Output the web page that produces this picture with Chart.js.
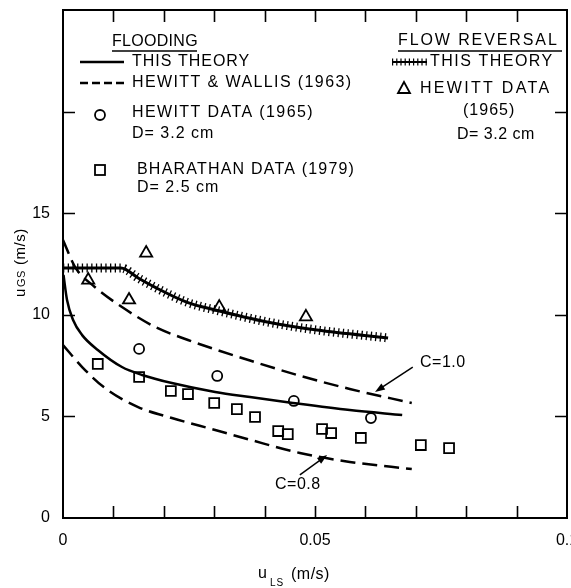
<!DOCTYPE html>
<html>
<head>
<meta charset="utf-8">
<script src="https://cdn.jsdelivr.net/npm/chart.js@4.4.1/dist/chart.umd.min.js"></script>
<style>
  html, body { margin: 0; padding: 0; background: #fff; overflow: hidden; }
  #wrap { width: 571px; height: 588px; overflow: hidden; }
  canvas { display: block; }
</style>
</head>
<body>
<div id="wrap"><canvas id="chart" width="590" height="588"></canvas></div>
<script>
// flooding - this theory (solid)
const theoryX = [0.0001, 0.0008, 0.002, 0.0038, 0.0069, 0.0117, 0.0157, 0.0216, 0.0302, 0.0371, 0.0456, 0.0569, 0.0673];
const theoryY = [11.96, 10.73, 9.74, 9.0, 8.27, 7.43, 7.04, 6.64, 6.2, 5.95, 5.66, 5.31, 5.07];

// Hewitt & Wallis (1963), C = 1.0 and C = 0.8 (dashed)
const wallisHiX = [0, 0.0024, 0.0063, 0.0117, 0.0183, 0.0248, 0.0302, 0.0371, 0.047, 0.0569, 0.0692];
const wallisHiY = [13.68, 12.35, 11.37, 10.38, 9.4, 8.76, 8.3, 7.75, 7.0, 6.35, 5.66];
const wallisLoX = [0, 0.0038, 0.0083, 0.0149, 0.0216, 0.0302, 0.0371, 0.047, 0.0569, 0.0692];
const wallisLoY = [8.51, 7.43, 6.4, 5.46, 4.92, 4.33, 3.85, 3.2, 2.76, 2.41];

// Hewitt data (1965), flooding (circles)
const hewittFloodX = [0.0151, 0.0306, 0.0458, 0.0611];
const hewittFloodY = [8.32, 6.99, 5.76, 4.92];

// Bharathan data (1979) (squares)
const bharathanX = [0.0069, 0.0151, 0.0214, 0.0248, 0.030, 0.0345, 0.0381, 0.0427, 0.0446, 0.0514, 0.0532, 0.0591, 0.0710, 0.0766];
const bharathanY = [7.58, 6.94, 6.25, 6.10, 5.66, 5.36, 4.97, 4.28, 4.13, 4.38, 4.18, 3.94, 3.59, 3.44];

// flow reversal - this theory (hatched)
const reversalX = [0, 0.0115, 0.015, 0.0183, 0.0248, 0.0302, 0.0405, 0.0504, 0.0645];
const reversalY = [12.3, 12.3, 11.8, 11.35, 10.6, 10.24, 9.65, 9.25, 8.86];

// Hewitt data (1965), flow reversal (triangles)
const hewittRevX = [0.005, 0.0131, 0.0165, 0.031, 0.0482];
const hewittRevY = [11.71, 10.73, 13.04, 10.38, 9.9];

// tick labels
const xLabelTicks = [0, 0.05, 0.1];
const xLabelText = ['0', '0.05', '0.1'];
const yLabelTicks = [0, 5, 10, 15];
const yLabelText = ['0', '5', '10', '15'];

const INK = '#000';
const FONT = '"Liberation Sans", Arial, sans-serif';

function toPoints(xs, ys) {
  return xs.map((x, i) => ({ x, y: ys[i] }));
}

function lineSet(xs, ys, extra) {
  return Object.assign({
    data: toPoints(xs, ys),
    showLine: true,
    borderColor: INK,
    borderWidth: 2.5,
    pointRadius: 0,
    fill: false,
    cubicInterpolationMode: 'monotone'
  }, extra);
}

function markerSet(xs, ys, style, radius) {
  return {
    data: toPoints(xs, ys),
    showLine: false,
    pointStyle: style,
    pointRadius: radius,
    pointBorderWidth: 1.8,
    pointBorderColor: INK,
    pointBackgroundColor: 'rgba(0,0,0,0)'
  };
}

function text(ctx, str, x, y, size, spacing) {
  ctx.font = `${size}px ${FONT}`;
  ctx.letterSpacing = (spacing === undefined ? 1 : spacing) + 'px';
  ctx.fillText(str, x, y);
}

function arrow(ctx, x1, y1, x2, y2) {
  const ang = Math.atan2(y2 - y1, x2 - x1);
  ctx.beginPath();
  ctx.moveTo(x1, y1);
  ctx.lineTo(x2 - 6 * Math.cos(ang), y2 - 6 * Math.sin(ang));
  ctx.lineWidth = 1.5;
  ctx.stroke();
  ctx.beginPath();
  ctx.moveTo(x2, y2);
  ctx.lineTo(x2 - 10 * Math.cos(ang) + 3.5 * Math.sin(ang), y2 - 10 * Math.sin(ang) - 3.5 * Math.cos(ang));
  ctx.lineTo(x2 - 10 * Math.cos(ang) - 3.5 * Math.sin(ang), y2 - 10 * Math.sin(ang) + 3.5 * Math.cos(ang));
  ctx.closePath();
  ctx.fill();
}

const decorations = {
  id: 'decorations',
  afterDraw(chart) {
    const { ctx, chartArea: a, scales } = chart;
    const sx = scales.x, sy = scales.y;
    ctx.save();
    ctx.strokeStyle = INK;
    ctx.fillStyle = INK;

    // frame
    ctx.lineWidth = 2;
    ctx.strokeRect(a.left, a.top, a.right - a.left, a.bottom - a.top);

    // inward ticks on all four sides
    ctx.lineWidth = 1.6;
    ctx.beginPath();
    sx.ticks.forEach((t) => {
      if (t.value <= 0.0001 || t.value >= 0.0999) return;
      const px = Math.round(sx.getPixelForValue(t.value)) + 0.5;
      ctx.moveTo(px, a.bottom); ctx.lineTo(px, a.bottom - 12);
      ctx.moveTo(px, a.top); ctx.lineTo(px, a.top + 12);
    });
    sy.ticks.forEach((t) => {
      if (t.value <= 0 || t.value >= 25) return;
      const py = Math.round(sy.getPixelForValue(t.value)) + 0.5;
      ctx.moveTo(a.left, py); ctx.lineTo(a.left + 12, py);
      ctx.moveTo(a.right, py); ctx.lineTo(a.right - 12, py);
    });
    ctx.stroke();

    ctx.textBaseline = 'middle';
    ctx.textAlign = 'left';

    // flooding legend
    text(ctx, 'FLOODING', 112, 42, 16, 0.3);
    ctx.lineWidth = 1.5;
    ctx.beginPath(); ctx.moveTo(112, 51); ctx.lineTo(197, 51); ctx.stroke();

    ctx.lineWidth = 2.5;
    ctx.beginPath(); ctx.moveTo(80, 62); ctx.lineTo(124, 62); ctx.stroke();
    text(ctx, 'THIS THEORY', 132, 62, 16);

    ctx.setLineDash([8, 4]);
    ctx.beginPath(); ctx.moveTo(80, 83); ctx.lineTo(127, 83); ctx.stroke();
    ctx.setLineDash([]);
    text(ctx, 'HEWITT & WALLIS (1963)', 132, 83, 16, 1.4);

    ctx.lineWidth = 1.8;
    ctx.beginPath(); ctx.arc(100, 115, 5, 0, Math.PI * 2); ctx.stroke();
    text(ctx, 'HEWITT DATA (1965)', 132, 113, 16, 1.4);
    text(ctx, 'D= 3.2 cm', 132, 134, 16);

    ctx.strokeRect(95, 165, 10, 10);
    text(ctx, 'BHARATHAN DATA (1979)', 137, 170, 16, 1.2);
    text(ctx, 'D= 2.5 cm', 137, 188, 16);

    // flow reversal legend
    text(ctx, 'FLOW REVERSAL', 398, 41, 16, 1.9);
    ctx.lineWidth = 1.5;
    ctx.beginPath(); ctx.moveTo(398, 51); ctx.lineTo(562, 51); ctx.stroke();

    ctx.lineWidth = 2;
    ctx.beginPath(); ctx.moveTo(392, 62); ctx.lineTo(427, 62); ctx.stroke();
    ctx.lineWidth = 7;
    ctx.setLineDash([1.2, 3]);
    ctx.beginPath(); ctx.moveTo(392, 62); ctx.lineTo(427, 62); ctx.stroke();
    ctx.setLineDash([]);
    text(ctx, 'THIS THEORY', 430, 62, 16, 1.5);

    ctx.lineWidth = 1.8;
    ctx.beginPath();
    ctx.moveTo(404, 82); ctx.lineTo(410, 93); ctx.lineTo(398, 93); ctx.closePath();
    ctx.stroke();
    text(ctx, 'HEWITT DATA', 420, 89, 16, 2.3);
    text(ctx, '(1965)', 463, 111, 16);
    text(ctx, 'D= 3.2 cm', 457, 135, 16, 0.5);

    // curve annotations
    text(ctx, 'C=1.0', 420, 363, 16, 0.5);
    arrow(ctx, sx.getPixelForValue(0.0694), sy.getPixelForValue(7.43),
      sx.getPixelForValue(0.0619), sy.getPixelForValue(6.2));
    text(ctx, 'C=0.8', 275, 485, 16, 0.5);
    arrow(ctx, sx.getPixelForValue(0.047), sy.getPixelForValue(2.12),
      sx.getPixelForValue(0.0524), sy.getPixelForValue(3.1));

    // x axis title
    ctx.textBaseline = 'alphabetic';
    text(ctx, 'u', 258, 578, 16, 0);
    text(ctx, 'LS', 270, 586, 10, 1);
    text(ctx, '(m/s)', 291, 579, 16, 0.5);

    // y axis title (rotated)
    ctx.translate(25, 297);
    ctx.rotate(-Math.PI / 2);
    text(ctx, 'u', 0, 0, 15, 0);
    text(ctx, 'GS', 10, 0, 11, 0.5);
    text(ctx, '(m/s)', 32, 0, 15, 0.5);

    ctx.restore();
  }
};

const datasets = [
  lineSet(theoryX, theoryY),
  lineSet(wallisHiX, wallisHiY, { borderDash: [15, 7] }),
  lineSet(wallisLoX, wallisLoY, { borderDash: [15, 7] }),
  lineSet(reversalX, reversalY, { borderWidth: 3 }),
  lineSet(reversalX, reversalY, { borderWidth: 9, borderDash: [1.3, 3.4], borderCapStyle: 'butt' }),
  markerSet(hewittFloodX, hewittFloodY, 'circle', 5),
  markerSet(bharathanX, bharathanY, 'rect', 7),
  markerSet(hewittRevX, hewittRevY, 'triangle', 7)
];

const tickFont = { family: FONT, size: 16 };

new Chart(document.getElementById('chart'), {
  type: 'scatter',
  data: { datasets },
  options: {
    responsive: false,
    animation: false,
    layout: { padding: { top: 10, right: 23, left: 0, bottom: 0 } },
    plugins: { legend: { display: false }, tooltip: { enabled: false } },
    scales: {
      x: {
        type: 'linear',
        min: 0,
        max: 0.1,
        grid: { display: false, drawTicks: false },
        border: { display: false },
        ticks: {
          stepSize: 0.01,
          autoSkip: false,
          maxRotation: 0,
          color: INK,
          font: tickFont,
          padding: 13,
          callback: (v) => {
            const i = xLabelTicks.findIndex((t) => Math.abs(t - v) < 1e-6);
            return i >= 0 ? xLabelText[i] : '';
          }
        },
        afterFit: (s) => { s.height = 70; s.paddingLeft = 0; s.paddingRight = 0; }
      },
      y: {
        min: 0,
        max: 25,
        grid: { display: false, drawTicks: false },
        border: { display: false },
        ticks: {
          stepSize: 5,
          color: INK,
          font: tickFont,
          padding: 13,
          callback: (v) => {
            const i = yLabelTicks.indexOf(v);
            return i >= 0 ? yLabelText[i] : '';
          }
        },
        afterFit: (s) => { s.width = 63; s.paddingTop = 0; s.paddingBottom = 0; }
      }
    }
  },
  plugins: [decorations]
});
</script>
</body>
</html>
